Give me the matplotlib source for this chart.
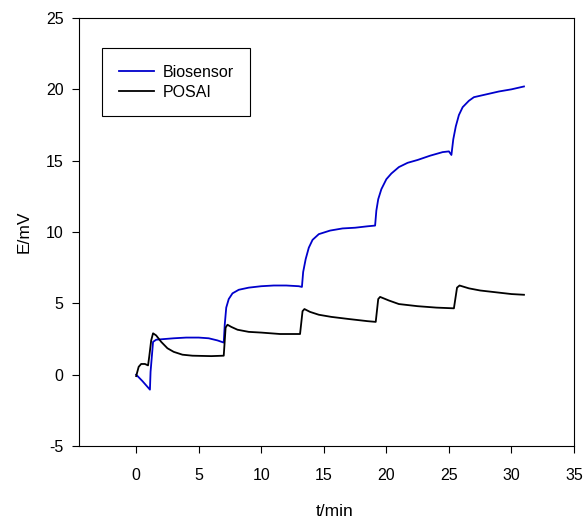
import matplotlib
matplotlib.use("Agg")
import matplotlib.pyplot as plt

plt.rcParams['font.family'] = ['Liberation Sans', 'DejaVu Sans']
plt.rcParams['axes.unicode_minus'] = False

# Biosensor (blue) trace
t_bio = [0, 0.5, 1.1, 1.15, 1.35, 1.6, 2.0, 3.0, 4.0, 5.0, 5.8, 6.5, 7.0,
         7.08, 7.2, 7.4, 7.7, 8.2, 9.0, 10.0, 11.0, 12.0, 13.0, 13.25,
         13.35, 13.55, 13.8, 14.1, 14.6, 15.5, 16.5, 17.5, 18.5, 19.1,
         19.2, 19.35, 19.6, 20.0, 20.4, 21.0, 21.7, 22.5, 23.5, 24.5, 25.0, 25.2,
         25.35, 25.55, 25.8, 26.1, 26.6, 27.0, 28.0, 29.0, 30.0, 31.0]
E_bio = [0, -0.45, -1.05, 0.2, 2.3, 2.45, 2.48, 2.55, 2.6, 2.6, 2.55, 2.4, 2.25,
         3.5, 4.7, 5.3, 5.7, 5.95, 6.1, 6.2, 6.25, 6.25, 6.2, 6.15,
         7.2, 8.1, 8.9, 9.45, 9.85, 10.1, 10.25, 10.3, 10.4, 10.45,
         11.5, 12.3, 13.0, 13.7, 14.1, 14.55, 14.85, 15.05, 15.35, 15.6, 15.65, 15.4,
         16.5, 17.4, 18.2, 18.75, 19.2, 19.45, 19.65, 19.85, 20.0, 20.2]

# POSAI (black) trace
t_pos = [0, 0.2, 0.4, 0.7, 0.95, 1.05, 1.2, 1.35, 1.6, 2.0, 2.5, 3.0, 3.7, 4.5,
         6.0, 7.0, 7.15, 7.3, 7.6, 8.1, 9.0, 10.0, 11.5, 13.1,
         13.3, 13.45, 13.9, 14.6, 15.6, 17.0, 18.5, 19.15,
         19.35, 19.5, 20.2, 21.0, 22.5, 24.0, 25.4,
         25.65, 25.85, 26.6, 27.5, 29.0, 30.0, 31.0]
E_pos = [-0.1, 0.55, 0.75, 0.75, 0.65, 1.3, 2.4, 2.9, 2.75, 2.3, 1.85, 1.6, 1.4, 1.33,
         1.3, 1.33, 3.3, 3.5, 3.35, 3.15, 3.0, 2.95, 2.85, 2.85,
         4.45, 4.6, 4.4, 4.2, 4.05, 3.9, 3.75, 3.7,
         5.3, 5.45, 5.2, 4.95, 4.8, 4.7, 4.65,
         6.1, 6.25, 6.05, 5.9, 5.75, 5.65, 5.6]

x_ticks = [0, 5, 10, 15, 20, 25, 30, 35]
y_ticks = [-5, 0, 5, 10, 15, 20, 25]

fig = plt.figure(figsize=(5.84, 5.18), dpi=100)
ax = fig.add_axes([79/584, 1 - 446/518, 495/584, 428/518])

ax.plot(t_bio, E_bio, color='#0000cc', lw=1.3, label='Biosensor')
ax.plot(t_pos, E_pos, color='black', lw=1.3, label='POSAI')

ax.set_xlim(-4.57, 35)
ax.set_ylim(-5, 25)
ax.set_xticks(x_ticks)
ax.set_yticks(y_ticks)
ax.tick_params(direction='out', length=5, width=0.8, labelsize=11.5,
               top=False, right=False)
ax.tick_params(axis='x', pad=11)
ax.tick_params(axis='y', pad=6)
for s in ax.spines.values():
    s.set_linewidth(0.8)

ax.set_xlabel('t/min', fontsize=12.5, labelpad=15)
ax.xaxis.set_label_coords(0.517, -0.135)
ax.set_ylabel('E/mV', fontsize=12.5, labelpad=10)

leg = ax.legend(loc='upper left', bbox_to_anchor=(0.046, 0.93), borderaxespad=0,
                prop={'size': 11.5}, fancybox=False, edgecolor='black', framealpha=1,
                handlelength=2.2, handletextpad=0.55, borderpad=1.05, labelspacing=0.3)
leg.get_frame().set_linewidth(0.8)

fig.savefig('out.png', dpi=100)
